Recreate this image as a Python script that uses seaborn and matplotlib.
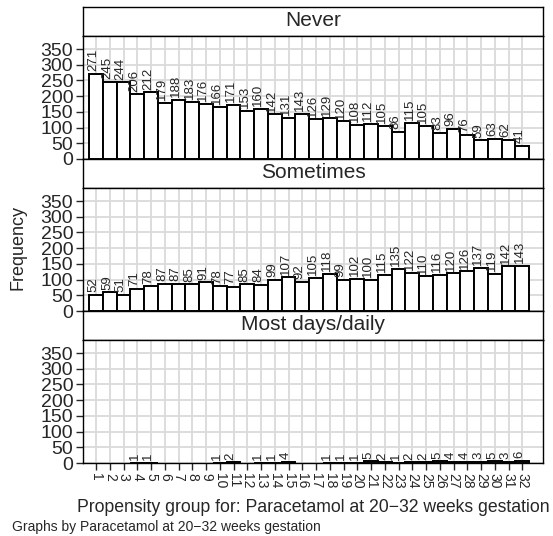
import numpy as np
import pandas as pd
import matplotlib
matplotlib.use("Agg")
import matplotlib.pyplot as plt
import seaborn as sns

weeks = list(range(1, 33))
never = [271, 245, 244, 206, 212, 179, 188, 183, 176, 166, 171, 153, 160, 142, 131, 143,
         126, 129, 120, 108, 112, 105, 86, 115, 105, 83, 96, 76, 59, 63, 62, 41]
sometimes = [52, 59, 51, 71, 78, 87, 87, 85, 91, 78, 77, 85, 84, 99, 107, 92,
             105, 118, 99, 102, 100, 115, 135, 122, 110, 116, 120, 126, 137, 119, 142, 143]
mostdays = [0, 0, 0, 1, 1, 0, 0, 0, 0, 1, 2, 0, 1, 1, 4, 0,
            0, 1, 1, 1, 5, 2, 1, 2, 2, 5, 4, 4, 3, 5, 3, 6]
groups = ["Never", "Sometimes", "Most days/daily"]
yticks = [0, 50, 100, 150, 200, 250, 300, 350]
series = [never, sometimes, mostdays]

sns.set_style("ticks")
plt.rcParams["font.family"] = ["Liberation Sans", "DejaVu Sans"]

W, H = 553, 536
fig = plt.figure(figsize=(W / 100, H / 100), dpi=100)

def fx(px):
    return px / W

def fy(py):
    return 1 - py / H

left, right = 83, 543
panel_tops = [7, 159, 311]
head_h = 29
plot_h = 123
grid_col = "#dadada"

for i, (name, vals) in enumerate(zip(groups, series)):
    top = panel_tops[i]
    # header strip
    hax = fig.add_axes([fx(left), fy(top + head_h), fx(right - left), head_h / H])
    hax.set_xticks([]); hax.set_yticks([])
    for s in hax.spines.values():
        s.set_color("black"); s.set_linewidth(1.0)
    hax.text(0.5, 0.52, name, ha="center", va="center", fontsize=15, transform=hax.transAxes)

    ax = fig.add_axes([fx(left), fy(top + head_h + plot_h), fx(right - left), plot_h / H])
    df = pd.DataFrame({"week": weeks, "freq": vals})
    df = df[df["freq"] > 0]
    sns.barplot(data=df, x="week", y="freq", native_scale=True, width=1.0,
                color="white", saturation=1, edgecolor="black", linewidth=1.4,
                ax=ax, zorder=3)
    ax.set_xlim(0.05, 33.5)
    ax.set_ylim(0, 391.5)
    ax.set_yticks(yticks)
    ax.set_yticklabels([str(t) for t in yticks], fontsize=14)
    ax.set_xticks(weeks)
    ax.grid(True, color=grid_col, linewidth=1.3, zorder=0)
    ax.set_axisbelow(True)
    ax.set_xlabel(""); ax.set_ylabel("")
    for s in ax.spines.values():
        s.set_visible(True); s.set_color("black"); s.set_linewidth(1.0)
    ax.tick_params(axis="y", length=5, width=1, pad=2)
    if i < 2:
        ax.tick_params(axis="x", length=0, labelbottom=False)
    else:
        ax.set_xticklabels([str(w) for w in weeks], rotation=270, fontsize=10)
        ax.tick_params(axis="x", length=5, width=1, pad=2)
    for w, v in zip(weeks, vals):
        if v > 0:
            ax.annotate(str(v), (w, v), xytext=(-2, 2), textcoords="offset points",
                        rotation=90, ha="center", va="bottom", fontsize=9.5, zorder=4)

fig.text(fx(18), fy(247), "Frequency", rotation=90, ha="center", va="center", fontsize=13)
fig.text(fx(313), fy(508), "Propensity group for: Paracetamol at 20\u221232 weeks gestation",
         ha="center", va="center", fontsize=12.7)
fig.text(fx(12), fy(527), "Graphs by Paracetamol at 20\u221232 weeks gestation",
         ha="left", va="center", fontsize=10)

fig.savefig("out.png", dpi=100)
